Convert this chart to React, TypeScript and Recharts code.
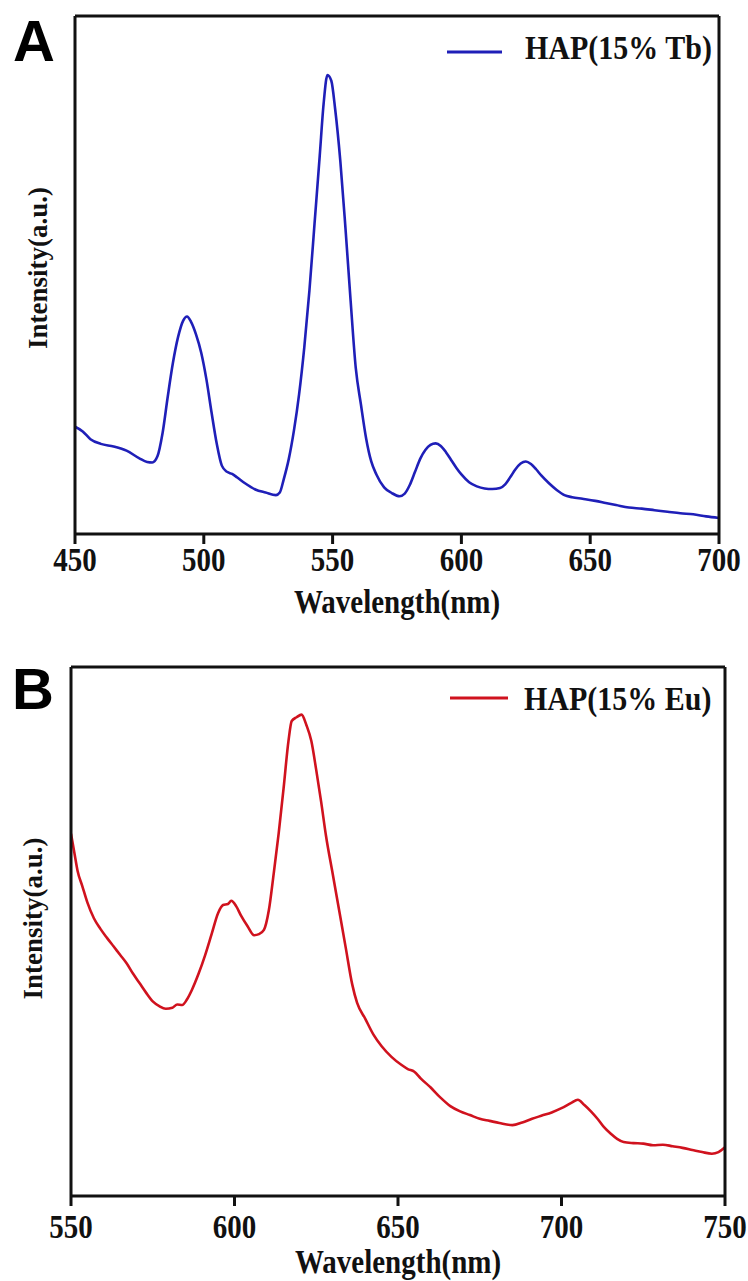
import React from 'react';
import { LineChart, Line, XAxis, YAxis } from 'recharts';

// Panel A: HAP(15% Tb) emission
const tbWavelength = [
  450, 453, 456, 460, 465, 470, 475, 478, 480, 482, 484, 486, 488, 490, 492, 493.5, 495, 497, 499, 501,
  503, 505, 507, 509, 511, 513, 516, 520, 524, 528, 529.5, 531, 533, 535, 537, 539, 541, 543, 545, 546.5,
  548, 549.5, 551, 553, 555, 557, 559, 561, 563, 565, 567, 570, 573, 576, 578, 580, 582, 584, 586, 588,
  590, 592, 594, 596, 598, 600, 603, 606, 609, 612, 615, 617, 619, 621, 623, 625, 627, 629, 631, 634,
  637, 640, 643, 647, 652, 656, 660, 665, 670, 675, 680, 685, 690, 695, 700,
];
const tbIntensity = [
  20.7, 19.8, 18.3, 17.4, 16.9, 16.1, 14.6, 13.9, 13.8, 15.0, 19.5, 26.5, 33.0, 38.0, 41.2, 42.0, 41.0, 38.5, 35.0, 29.9,
  23.5, 17.5, 13.2, 12.0, 11.6, 10.9, 9.8, 8.6, 8.0, 7.5, 8.0, 10.5, 14.5, 20.0, 27.0, 36.0, 47.0, 60.0, 73.0, 83.0,
  88.6, 87.5, 82.0, 72.0, 59.0, 45.0, 32.0, 25.0, 18.5, 14.0, 11.5, 9.0, 7.9, 7.3, 7.8, 9.5, 12.0, 14.5, 16.2, 17.2,
  17.5, 17.0, 15.8, 14.3, 12.8, 11.5, 10.0, 9.2, 8.8, 8.7, 8.9, 9.6, 11.0, 12.5, 13.6, 14.0, 13.5, 12.5, 11.3, 9.8,
  8.5, 7.5, 7.1, 6.8, 6.4, 6.0, 5.6, 5.1, 4.9, 4.6, 4.3, 4.0, 3.8, 3.4, 3.1,
];
const tbTicks = [450, 500, 550, 600, 650, 700];

// Panel B: HAP(15% Eu) emission
const euWavelength = [
  550, 551, 552, 553.5, 555, 557, 559, 561, 563, 565, 567, 569, 571, 573, 575, 577, 579, 581, 582.5, 584,
  585.5, 587, 589, 591, 593, 595, 596.5, 598, 599, 600.5, 602, 604, 606, 607.5, 609, 610.5, 612, 613.5, 615, 616.5,
  617.5, 619, 620.5, 622, 623.5, 625, 626.5, 628, 630, 632, 634, 636, 637.5, 640, 642.5, 645, 648, 651, 653, 655,
  657, 660, 663, 666, 669, 672, 675, 678, 681, 685, 688, 691, 694, 697, 700, 703, 705, 707, 709, 711,
  713, 715, 717, 719, 722, 725, 728, 731, 734, 737, 740, 743, 746, 748, 750,
];
const euIntensity = [
  68.5, 65.0, 61.5, 58.5, 55.5, 52.5, 50.5, 48.8, 47.2, 45.6, 44.0, 42.0, 40.2, 38.4, 36.8, 35.9, 35.4, 35.6, 36.2, 36.1,
  37.2, 39.0, 42.0, 45.5, 49.5, 53.5, 55.0, 55.2, 55.8, 54.8, 53.0, 51.0, 49.3, 49.5, 50.3, 54.0, 61.0, 68.5, 77.0, 86.0,
  89.8, 90.5, 91.0, 89.0, 86.0, 80.5, 74.5, 68.0, 61.0, 54.0, 47.0, 40.0, 36.5, 33.5, 30.5, 28.3, 26.3, 24.8, 24.0, 23.5,
  22.2, 20.5, 18.6, 17.0, 16.0, 15.3, 14.6, 14.2, 13.8, 13.4, 13.9, 14.6, 15.2, 15.8, 16.6, 17.6, 18.2, 17.2, 16.0, 14.6,
  13.0, 11.8, 10.8, 10.2, 10.0, 9.9, 9.6, 9.7, 9.4, 9.1, 8.7, 8.3, 8.0, 8.3, 9.2,
];
const euTicks = [550, 600, 650, 700, 750];

const serif = '"Liberation Serif", "Times New Roman", serif';
const sans = '"Liberation Sans", Arial, sans-serif';
const STRETCH = 1.15; // the figure is slightly stretched vertically
const INK = '#111';

const toRows = (xs: number[], ys: number[]) => xs.map((w, i) => ({ w, v: ys[i] }));

const makeTick = (dy: number) => (props: any) => (
  <text
    transform={`translate(${props.x},${props.y + dy}) scale(1,${STRETCH})`}
    textAnchor="middle"
    fontFamily={serif}
    fontWeight="bold"
    fontSize={29}
    fill={INK}
  >
    {props.payload.value}
  </text>
);

const xTitle = (dy: number) => (props: any) => {
  const vb = props.viewBox;
  return (
    <text
      transform={`translate(${vb.x + vb.width / 2},${vb.y + dy}) scale(1,${STRETCH})`}
      textAnchor="middle"
      fontFamily={serif}
      fontWeight="bold"
      fontSize={29}
      fill={INK}
    >
      Wavelength(nm)
    </text>
  );
};

const yTitle = (bx: number, dy: number) => (props: any) => {
  const vb = props.viewBox;
  return (
    <text
      transform={`translate(${bx},${vb.y + vb.height / 2 + dy}) rotate(-90)`}
      textAnchor="middle"
      fontFamily={serif}
      fontWeight="bold"
      fontSize={27}
      fill={INK}
    >
      Intensity(a.u.)
    </text>
  );
};

interface PanelProps {
  top: number;
  height: number;
  // plot frame edges, in panel coordinates
  frame: { top: number; right: number; bottom: number; left: number };
  rows: { w: number; v: number }[];
  ticks: number[];
  color: string;
  name: string;
  letter: string;
  letterX: number;
  letterBase: number;
  legendX: [number, number];
  legendY: number;
  legendTextX: number;
  legendBase: number;
  tickDy: number;
  xTitleDy: number;
  yTitleX: number;
  yTitleDy: number;
}

function Panel(p: PanelProps) {
  const domain = [p.ticks[0], p.ticks[p.ticks.length - 1]];
  const axisLine = { stroke: INK, strokeWidth: 3 };
  // axes need a size of at least 1px to be drawn
  const margin = {
    top: p.frame.top - 1,
    left: p.frame.left - 1,
    right: 748 - p.frame.right - 1,
    bottom: p.height - p.frame.bottom - 1,
  };
  return (
    <div style={{ position: 'absolute', left: 0, top: p.top, width: 748, height: p.height }}>
      <LineChart width={748} height={p.height} data={p.rows} margin={margin}>
        <XAxis
          dataKey="w"
          type="number"
          domain={domain}
          ticks={p.ticks}
          height={1}
          axisLine={axisLine}
          tickLine={{ stroke: INK, strokeWidth: 3 }}
          tickSize={10}
          tick={makeTick(p.tickDy)}
          label={xTitle(p.xTitleDy)}
          allowDataOverflow
        />
        <XAxis xAxisId="t" orientation="top" dataKey="w" type="number" domain={domain} height={1} axisLine={axisLine} tick={false} tickLine={false} />
        <YAxis
          type="number"
          domain={[0, 100]}
          width={1}
          axisLine={axisLine}
          tick={false}
          tickLine={false}
          label={yTitle(p.yTitleX, p.yTitleDy)}
        />
        <YAxis yAxisId="r" orientation="right" type="number" domain={[0, 100]} width={1} axisLine={axisLine} tick={false} tickLine={false} />
        <Line
          type="monotone"
          dataKey="v"
          name={p.name}
          stroke={p.color}
          strokeWidth={2.6}
          dot={false}
          isAnimationActive={false}
        />
      </LineChart>
      <svg width={748} height={p.height} style={{ position: 'absolute', left: 0, top: 0, pointerEvents: 'none' }}>
        <text x={p.letterX} y={p.letterBase} fontFamily={sans} fontWeight="bold" fontSize={58} fill="#000">
          {p.letter}
        </text>
        <line x1={p.legendX[0]} x2={p.legendX[1]} y1={p.legendY} y2={p.legendY} stroke={p.color} strokeWidth={3} />
        <text
          transform={`translate(${p.legendTextX},${p.legendBase}) scale(1,${STRETCH})`}
          fontFamily={serif}
          fontWeight="bold"
          fontSize={30}
          fill={INK}
        >
          {p.name}
        </text>
      </svg>
    </div>
  );
}

export default function App() {
  return (
    <div style={{ position: 'absolute', left: 0, top: 0, width: 748, height: 1281, background: '#fff', overflow: 'hidden' }}>
      <Panel
        top={0}
        height={640}
        frame={{ top: 16, right: 719, bottom: 534, left: 75 }}
        rows={toRows(tbWavelength, tbIntensity)}
        ticks={tbTicks}
        color="#1f1fb8"
        name="HAP(15% Tb)"
        letter="A"
        letterX={13}
        letterBase={61}
        legendX={[447, 502]}
        legendY={52}
        legendTextX={525}
        legendBase={59}
        tickDy={25}
        xTitleDy={79}
        yTitleX={47}
        yTitleDy={-7}
      />
      <Panel
        top={640}
        height={641}
        frame={{ top: 27, right: 725, bottom: 556, left: 71 }}
        rows={toRows(euWavelength, euIntensity)}
        ticks={euTicks}
        color="#d0121e"
        name="HAP(15% Eu)"
        letter="B"
        letterX={12}
        letterBase={69}
        legendX={[450, 508]}
        legendY={58}
        legendTextX={524}
        legendBase={70}
        tickDy={30}
        xTitleDy={77}
        yTitleX={42}
        yTitleDy={-13}
      />
    </div>
  );
}
